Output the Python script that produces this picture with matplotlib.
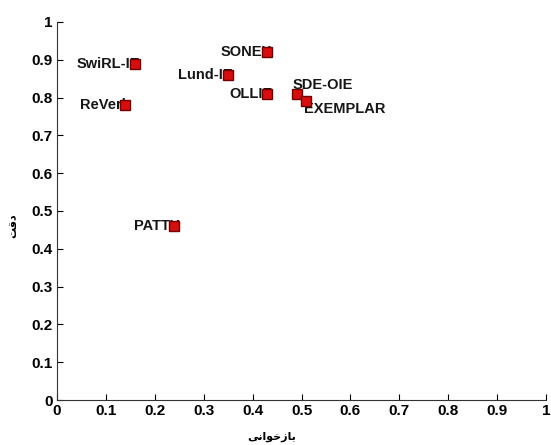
import matplotlib
matplotlib.use("Agg")
import matplotlib.pyplot as plt
from matplotlib.ticker import FuncFormatter

# Data (recall, precision)
systems = ['SwiRL-IE', 'ReVerb', 'SONEX', 'Lund-IE', 'OLLIE', 'SDE-OIE', 'EXEMPLAR', 'PATTY']
recall = [0.16, 0.14, 0.43, 0.35, 0.43, 0.49, 0.51, 0.24]
precision = [0.89, 0.78, 0.92, 0.86, 0.81, 0.81, 0.79, 0.46]
ticks = [0, 0.1, 0.2, 0.3, 0.4, 0.5, 0.6, 0.7, 0.8, 0.9, 1]
x_label = 'بازخوانی'
y_label = 'دقت'

# label offsets in points (dx, dy, ha)
label_pos = {
    'SDE-OIE': (-3, 6, 'left'),
    'EXEMPLAR': (-1.5, -5.5, 'left'),
}

# matplotlib 3.10 has no Arabic shaping, so pick presentation forms by hand
# letter: (isolated, final, initial, medial); two entries means no left join
FORMS = {
    'ب': ('\uFE8F', '\uFE90', '\uFE91', '\uFE92'),
    'ا': ('\uFE8D', '\uFE8E'),
    'ز': ('\uFEAF', '\uFEB0'),
    'خ': ('\uFEA5', '\uFEA6', '\uFEA7', '\uFEA8'),
    'و': ('\uFEED', '\uFEEE'),
    'ن': ('\uFEE5', '\uFEE6', '\uFEE7', '\uFEE8'),
    'ی': ('\uFBFC', '\uFBFD', '\uFBFE', '\uFBFF'),
    'د': ('\uFEA9', '\uFEAA'),
    'ق': ('\uFED5', '\uFED6', '\uFED7', '\uFED8'),
    'ت': ('\uFE95', '\uFE96', '\uFE97', '\uFE98'),
}


def shape(word):
    out = []
    for i, ch in enumerate(word):
        f = FORMS[ch]
        prev_joins = i > 0 and len(FORMS[word[i - 1]]) == 4
        next_joins = i < len(word) - 1 and len(f) == 4
        if prev_joins and next_joins:
            out.append(f[3])
        elif prev_joins:
            out.append(f[1])
        elif next_joins:
            out.append(f[2])
        else:
            out.append(f[0])
    return ''.join(reversed(out))


plt.rcParams['font.family'] = ['Liberation Sans', 'DejaVu Sans']

fig = plt.figure(figsize=(5.51, 4.45), dpi=100)
ax = fig.add_axes([0.1034, 0.1011, 0.8876, 0.8495])

# labels first so the markers sit on top of them
for name, x, y in zip(systems, recall, precision):
    dx, dy, ha = label_pos.get(name, (3.5, 0, 'right'))
    ax.annotate(name, (x, y), xytext=(dx, dy), textcoords='offset points',
                ha=ha, va='center', fontsize=10.5, fontweight='bold',
                color='#161616', zorder=2)

ax.plot(recall, precision, 's', markersize=6.5, markerfacecolor='#d80e0e',
        markeredgecolor='#700000', markeredgewidth=1.0, zorder=3)

ax.set_xlim(0, 1)
ax.set_ylim(0, 1)
ax.set_xticks(ticks)
ax.set_yticks(ticks)
fmt = FuncFormatter(lambda v, p: '%g' % v)
ax.xaxis.set_major_formatter(fmt)
ax.yaxis.set_major_formatter(fmt)
ax.tick_params(direction='in', length=4, width=0.8, labelsize=11, pad=3)
for lab in ax.get_xticklabels() + ax.get_yticklabels():
    lab.set_fontweight('bold')

ax.spines['top'].set_visible(False)
ax.spines['right'].set_visible(False)
ax.spines['left'].set_color('#333333')
ax.spines['bottom'].set_color('#333333')

ax.set_xlabel(shape(x_label), family=['DejaVu Sans'], fontweight='bold',
              fontsize=8)
ax.xaxis.set_label_coords(0.44, -0.083)
ax.set_ylabel(shape(y_label), family=['DejaVu Sans'], fontweight='bold',
              fontsize=8, va='center')
ax.yaxis.set_label_coords(-0.09, 0.46)

fig.savefig('out.png', dpi=100)
